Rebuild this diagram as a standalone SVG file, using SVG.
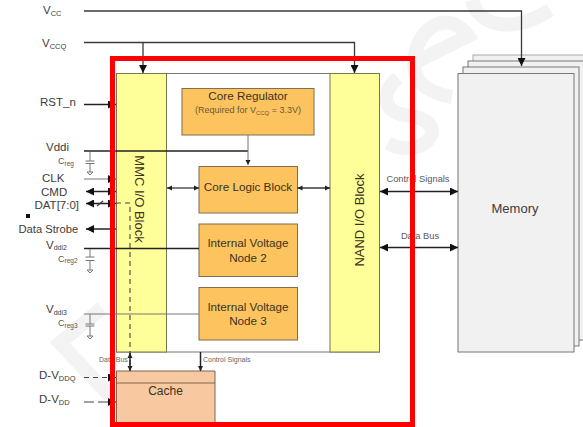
<svg xmlns="http://www.w3.org/2000/svg" width="583" height="427" viewBox="0 0 583 427">
<style>
text{font-family:"Liberation Sans",Arial,sans-serif;fill:#3c3c3c}
.l{font-size:11.5px}.c{font-size:9px;fill:#555}.t{font-size:11.700px;text-anchor:middle;fill:#3a3320}.m{font-size:7px;fill:#666}.n{font-size:9.300px;fill:#5a5a5a;text-anchor:middle}
.w{fill:none;stroke:#3a3a3a;stroke-width:1.3}.th{fill:none;stroke:#222;stroke-width:1.5}.g{fill:none;stroke:#777;stroke-width:1}
.o{fill:#fdc35e;stroke:#7d6f4f;stroke-width:1}.y{fill:#ffff99;stroke:#77774f;stroke-width:1}.mem{fill:#f1f1f1;stroke:#777;stroke-width:1}
.d{fill:none;stroke:#444;stroke-width:1.100;stroke-dasharray:5 4}
.cap{fill:none;stroke:#777;stroke-width:1}
</style>
<defs>
<marker id="a" markerUnits="userSpaceOnUse" markerWidth="9" markerHeight="8" refX="8" refY="4" orient="auto-start-reverse"><path d="M0 0L8 4L0 8z" fill="#111"/></marker>
<marker id="b" markerUnits="userSpaceOnUse" markerWidth="6" markerHeight="6" refX="5" refY="3" orient="auto-start-reverse"><path d="M0 0.5L5 3L0 5.500z" fill="#222"/></marker>
</defs>
<rect width="583" height="427" fill="#fff"/>
<g id="watermark" fill="none" stroke="#f3f3f3" stroke-width="14">
<path d="M102 308L60 343L110 396"/>
<path d="M398 78C378 95 385 112 405 115C430 118 440 130 425 143C415 150 400 150 388 143"/>
<path d="M416 62L468 36C450 10 420 25 415 55C410 80 425 92 452 97"/>
<path d="M472 0C478 25 510 35 550 10"/>
</g>
<g id="memory">
<rect class="mem" style="stroke:#aaa" x="473" y="55" width="120" height="280"/>
<rect class="mem" x="468" y="61" width="120" height="279"/>
<rect class="mem" x="463" y="67" width="116" height="279"/>
<rect class="mem" x="458" y="73.500" width="116" height="278.500"/>
<text x="515" y="212.500" font-size="13" text-anchor="middle">Memory</text>
</g>
<g id="core-frame"><rect x="116.500" y="73.500" width="263" height="278.500" fill="#fff" stroke="#777"/></g>
<g id="mmc-io">
<rect class="y" x="116.500" y="73.500" width="50" height="278.500"/>
<text class="t" style="font-size:13px" transform="translate(135,199) rotate(90)">MMC I/O Block</text>
</g>
<g id="nand-io">
<rect class="y" x="330" y="73.500" width="49.500" height="278.500"/>
<text class="t" style="font-size:13px" transform="translate(364,220) rotate(-90)">NAND I/O Block</text>
</g>
<g id="core-regulator">
<rect class="o" x="182" y="88.500" width="132" height="46.500"/>
<text class="t" x="248" y="100">Core Regulator</text>
<text class="t" x="248" y="113" style="font-size:9px;fill:#6b5a30">(Required for V<tspan font-size="6" dy="1.500">CCQ</tspan><tspan dy="-1.500"> = 3.3V)</tspan></text>
</g>
<g id="core-logic"><rect class="o" x="199" y="166.500" width="98.500" height="46.500"/><text class="t" x="248" y="190.500">Core Logic Block</text></g>
<g id="ivn2"><rect class="o" x="199" y="224" width="98.500" height="52.500"/><text class="t" x="248" y="247">Internal Voltage</text><text class="t" x="248" y="262">Node 2</text></g>
<g id="ivn3"><rect class="o" x="199" y="287.500" width="98.500" height="52.500"/><text class="t" x="248" y="311">Internal Voltage</text><text class="t" x="248" y="325">Node 3</text></g>
<g id="cache">
<path d="M116.500 371H215V427H116.500z" fill="#f8c9a0" stroke="#7d6650"/>
<path d="M116.500 383H215" stroke="#7d6650" fill="none"/>
<text class="t" x="165.500" y="394.500" style="font-size:12px">Cache</text>
</g>
<g id="connectors">
<path class="w" d="M84 11H521.500V66" marker-end="url(#a)"/>
<path class="w" d="M84 42.500H354.500V73" marker-end="url(#a)"/>
<path class="w" d="M143 42.500V73" marker-end="url(#a)"/>
<path class="th" d="M84 104.500H116" marker-end="url(#a)"/>
<path class="th" d="M84 151H248"/>
<path class="g" d="M248 135V165" marker-end="url(#b)"/>
<path class="g" d="M84 179H116" marker-end="url(#a)"/>
<path class="th" d="M86 191.500H116" marker-start="url(#a)" marker-end="url(#a)"/>
<path class="th" d="M86 203.500H116" marker-start="url(#a)" marker-end="url(#a)"/>
<path class="w" d="M97 206L103 201"/>
<path class="d" d="M116 203H130V368"/>
<path class="th" d="M86 229H116" marker-start="url(#a)"/>
<path class="th" d="M84 248.500H199"/>
<path class="g" d="M84 314H199"/>
<path class="w" d="M167 188H199" marker-start="url(#b)" marker-end="url(#b)"/>
<path class="w" d="M297.500 188H330" marker-start="url(#b)" marker-end="url(#b)"/>
<path class="th" d="M380 191.500H458" marker-start="url(#a)" marker-end="url(#a)"/>
<path class="th" d="M380 247.500H458" marker-start="url(#a)" marker-end="url(#a)"/>
<path class="th" d="M130 353V371" marker-start="url(#b)" marker-end="url(#b)"/>
<path class="th" d="M200.500 352V371" marker-end="url(#b)"/>
<path class="d" d="M84 377.500H116" marker-end="url(#a)"/>
<path class="d" style="stroke-dasharray:10 4" d="M84 402H116" marker-end="url(#a)"/>
<path class="cap" d="M90 152V161M85.500 161H94.500M85.500 163.500H94.500M90 163.500V172M87 172H93L90 175z"/>
<path class="cap" d="M90 249V257M85.500 257H94.500M85.500 260.500H94.500M90 260.500V270M87 270H93L90 273z"/>
<path class="cap" d="M90 314V324M85.500 324H94.500M85.500 326H94.500M90 326V336M87 336H93L90 339z"/>
</g>
<g id="labels">
<text class="l" x="43" y="14">V<tspan font-size="7.500" dy="2">CC</tspan></text>
<text class="l" x="42" y="47">V<tspan font-size="7.500" dy="2">CCQ</tspan></text>
<text class="l" x="40" y="106">RST_n</text>
<text class="l" x="46" y="151">Vddi</text>
<text class="c" x="58" y="164">C<tspan font-size="6.500" dy="1.500">reg</tspan></text>
<text class="l" x="42" y="182">CLK</text>
<text class="l" x="41" y="196">CMD</text>
<text class="l" x="34.500" y="208.500">DAT[7:0]</text>
<rect x="26" y="214" width="4" height="4" fill="#111"/>
<text class="l" x="18.500" y="233" style="font-size:11.200px">Data Strobe</text>
<text class="l" x="46" y="248.500">V<tspan font-size="7" dy="1.500">ddi2</tspan></text>
<text class="c" x="58" y="261.500">C<tspan font-size="6.500" dy="1.500">reg2</tspan></text>
<text class="l" x="46" y="313">V<tspan font-size="7" dy="1.500">ddi3</tspan></text>
<text class="c" x="58" y="326">C<tspan font-size="6.500" dy="1.500">reg3</tspan></text>
<text class="l" x="39" y="379">D-V<tspan font-size="7.500" dy="2">DDQ</tspan></text>
<text class="l" x="39" y="402.500">D-V<tspan font-size="7.500" dy="2">DD</tspan></text>
<text class="m" x="99" y="362">Data Bus</text>
<text class="m" x="203" y="362">Control Signals</text>
<text class="n" x="418" y="181.500">Control Signals</text>
<text class="n" x="420" y="239">Data Bus</text>
</g>
<rect id="highlight" x="112.500" y="58.500" width="300" height="366" fill="none" stroke="#ff0000" stroke-width="5"/>
</svg>
